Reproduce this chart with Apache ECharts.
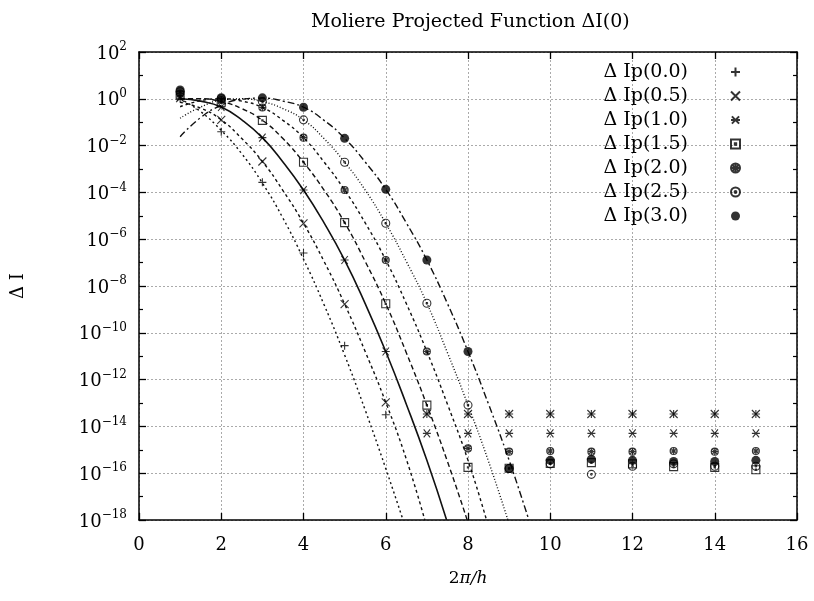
<!DOCTYPE html>
<html>
<head>
<meta charset="utf-8">
<script src="https://cdn.jsdelivr.net/npm/echarts@6/dist/echarts.min.js"></script>
<style>
  html, body { margin: 0; background: #fff; }
  #main { width: 814px; height: 601px; }
</style>
</head>
<body>
<div id="main"></div>
<script>
// x positions of the computed points (2*pi/h)
const xMarks = [1, 2, 3, 4, 5, 6, 7, 8, 9, 10, 11, 12, 13, 14, 15];

// computed points, log10(ΔI)
const ip00 = [0.0, -1.41, -3.57, -6.59, -10.55, -13.5, -13.47, -13.47, -13.47, -13.47, -13.47, -13.47, -13.47, -13.47, -13.47];
const ip05 = [0.03, -0.9, -2.68, -5.32, -8.77, -12.97, -13.47, -13.47, -13.47, -13.47, -13.47, -13.47, -13.47, -13.47, -13.47];
const ip10 = [0.08, -0.35, -1.66, -3.9, -6.89, -10.8, -14.3, -14.3, -14.3, -14.3, -14.3, -14.3, -14.3, -14.3, -14.3];
const ip15 = [0.15, -0.15, -0.92, -2.71, -5.29, -8.76, -13.09, -15.75, -15.79, -15.58, -15.55, -15.6, -15.72, -15.75, -15.85];
const ip20 = [0.22, -0.05, -0.37, -1.66, -3.9, -6.89, -10.8, -14.94, -15.08, -15.05, -15.08, -15.08, -15.05, -15.08, -15.05];
const ip25 = [0.3, 0.0, -0.12, -0.9, -2.71, -5.32, -8.74, -13.09, -15.8, -15.6, -16.05, -15.7, -15.6, -15.7, -15.7];
const ip30 = [0.38, 0.05, 0.04, -0.36, -1.69, -3.87, -6.89, -10.8, -15.8, -15.45, -15.4, -15.45, -15.5, -15.5, -15.45];

// approximation curves, [2*pi/h, log10(ΔI)]
const line00 = [[1, 0.0], [1.5, -0.55], [2, -1.35], [2.5, -2.35], [3, -3.6], [3.5, -5.1], [4, -6.85], [4.5, -8.8], [5, -10.95], [5.5, -13.3], [6, -15.8], [6.42, -18]];
const line05 = [[1, -0.15], [1.5, -0.4], [2, -0.9], [2.5, -1.7], [3, -2.68], [3.5, -3.92], [4, -5.32], [4.5, -6.95], [5, -8.77], [5.5, -10.8], [6, -12.97], [6.5, -15.4], [6.95, -18]];
const line10 = [[1, 0.0], [1.5, -0.1], [2, -0.35], [2.5, -0.9], [3, -1.66], [3.5, -2.7], [4, -3.9], [4.5, -5.3], [5, -6.89], [5.5, -8.75], [6, -10.8], [6.5, -13.05], [7, -15.45], [7.48, -18]];
const line15 = [[1, 0.0], [1.5, 0.0], [2, -0.12], [2.5, -0.42], [3, -0.92], [3.5, -1.7], [4, -2.71], [4.5, -3.9], [5, -5.29], [5.5, -6.95], [6, -8.76], [6.5, -10.85], [7, -13.09], [7.5, -15.5], [7.98, -18]];
const line20 = [[1, -0.34], [1.5, -0.08], [2, 0.0], [2.5, -0.1], [3, -0.37], [3.5, -0.92], [4, -1.66], [4.5, -2.7], [5, -3.9], [5.5, -5.3], [6, -6.89], [6.5, -8.75], [7, -10.8], [7.5, -13.05], [8, -15.45], [8.45, -18]];
const line25 = [[1, -0.83], [1.5, -0.35], [2, -0.06], [2.5, 0.0], [3, -0.12], [3.5, -0.42], [4, -0.9], [4.5, -1.7], [5, -2.71], [5.5, -3.9], [6, -5.32], [6.5, -6.95], [7, -8.74], [7.5, -10.85], [8, -13.09], [8.5, -15.5], [8.97, -18]];
const line30 = [[1, -1.62], [1.5, -0.8], [2, -0.28], [2.5, -0.02], [3, 0.03], [3.5, -0.1], [4, -0.36], [4.5, -0.92], [5, -1.69], [5.5, -2.7], [6, -3.87], [6.5, -5.3], [7, -6.89], [7.5, -8.75], [8, -10.8], [8.5, -13.05], [9, -15.45], [9.48, -18]];

const names = ['Δ Ip(0.0)', 'Δ Ip(0.5)', 'Δ Ip(1.0)', 'Δ Ip(1.5)', 'Δ Ip(2.0)', 'Δ Ip(2.5)', 'Δ Ip(3.0)'];

const FONT = 'DejaVu Serif';
const pointSets = [ip00, ip05, ip10, ip15, ip20, ip25, ip30];
const lineSets = [line00, line05, line10, line15, line20, line25, line30];
const symbols = [
  'path://M0,5L10,5M5,0L5,10',
  'path://M1,1L9,9M9,1L1,9',
  'path://M1,1L9,9M9,1L1,9M0,5L10,5',
  'path://M1,1L9,1L9,9L1,9ZM4.4,4.4L5.6,4.4L5.6,5.6L4.4,5.6Z',
  'path://M0,5A5,5,0,1,1,10,5A5,5,0,1,1,0,5ZM1.5,1.5L8.5,8.5M8.5,1.5L1.5,8.5M5,0L5,10M0,5L10,5',
  'path://M0,5A5,5,0,1,1,10,5A5,5,0,1,1,0,5ZM4,5A1,1,0,1,1,6,5A1,1,0,1,1,4,5Z',
  'circle',
];
const sizes = [8, 8, 8, 8, 7, 8, 9];
const dashes = [[2, 3], [3, 3], 'solid', [5, 3], [3, 3], [1, 2], [7, 3, 2, 3]];

const series = [];
lineSets.forEach((pts, i) => {
  series.push({
    name: 'curve ' + names[i],
    type: 'line',
    data: pts,
    smooth: true,
    showSymbol: false,
    silent: true,
    z: 2,
    lineStyle: { color: '#111', width: dashes[i] === 'solid' ? 1.6 : 1.4, type: dashes[i] },
  });
});
pointSets.forEach((vals, i) => {
  const filled = symbols[i] === 'circle';
  series.push({
    name: names[i],
    type: 'scatter',
    data: xMarks.map((x, k) => [x, vals[k]]),
    symbol: symbols[i],
    symbolSize: sizes[i],
    z: 4,
    itemStyle: filled
      ? { color: '#000' }
      : { color: 'rgba(0,0,0,0)', borderColor: '#000', borderWidth: 1.1 },
  });
});

const expLabel = (v) => '{b|10}{e|' + (v < 0 ? '\u2212' + (-v) : v) + '}';

const option = {
  animation: false,
  backgroundColor: '#fff',
  title: {
    text: 'Moliere Projected Function ΔI(0)',
    left: 306,
    top: 8,
    textStyle: { fontFamily: FONT, fontSize: 19, fontWeight: 'normal', color: '#000' },
  },
  legend: {
    data: names,
    orient: 'vertical',
    align: 'right',
    right: 73,
    top: 62,
    padding: 0,
    itemGap: 4,
    itemWidth: 9,
    itemHeight: 9,
    selectedMode: false,
    textStyle: { fontFamily: FONT, fontSize: 19, color: '#000', lineHeight: 20, padding: [0, 38, 0, 0] },
  },
  grid: { left: 139, right: 17, top: 52, bottom: 81 },
  xAxis: [
    {
      type: 'value',
      min: 0,
      max: 16,
      interval: 2,
      name: '{n|2}{i|π/h}',
      nameLocation: 'middle',
      nameGap: 50,
      nameTextStyle: {
        rich: {
          n: { fontFamily: FONT, fontSize: 17, color: '#000' },
          i: { fontFamily: FONT, fontSize: 17, fontStyle: 'italic', color: '#000' },
        },
      },
      axisLine: { onZero: false, lineStyle: { color: '#000', width: 1.5 } },
      axisTick: { inside: true, length: 7, lineStyle: { color: '#000', width: 1.3 } },
      axisLabel: { fontFamily: FONT, fontSize: 18, color: '#000', margin: 16 },
      splitLine: { show: true, lineStyle: { color: '#aaa', width: 1, type: [2, 2] } },
    },
    {
      type: 'value',
      position: 'top',
      min: 0,
      max: 16,
      interval: 2,
      axisLine: { onZero: false, lineStyle: { color: '#000', width: 1.5 } },
      axisTick: { inside: true, length: 7, lineStyle: { color: '#000', width: 1.3 } },
      axisLabel: { show: false },
      splitLine: { show: false },
    },
  ],
  yAxis: [
    {
      type: 'value',
      min: -18,
      max: 2,
      interval: 2,
      name: 'Δ I',
      nameLocation: 'middle',
      nameGap: 112,
      nameTextStyle: { fontFamily: FONT, fontSize: 18, color: '#000' },
      axisLine: { onZero: false, lineStyle: { color: '#000', width: 1.5 } },
      axisTick: { inside: true, length: 7, lineStyle: { color: '#000', width: 1.3 } },
      minorTick: { show: true, splitNumber: 2, length: 4, lineStyle: { color: '#000', width: 1.2 } },
      axisLabel: {
        formatter: expLabel,
        margin: 12,
        rich: {
          b: { fontFamily: FONT, fontSize: 18, color: '#000', lineHeight: 22, verticalAlign: 'bottom' },
          e: { fontFamily: FONT, fontSize: 12, color: '#000', lineHeight: 14, verticalAlign: 'top' },
        },
      },
      splitLine: { show: true, lineStyle: { color: '#aaa', width: 1, type: [2, 2] } },
    },
    {
      type: 'value',
      position: 'right',
      min: -18,
      max: 2,
      interval: 2,
      axisLine: { show: true, onZero: false, lineStyle: { color: '#000', width: 1.5 } },
      axisTick: { show: true, inside: true, length: 7, lineStyle: { color: '#000', width: 1.3 } },
      minorTick: { show: true, splitNumber: 2, length: 4, lineStyle: { color: '#000', width: 1.2 } },
      axisLabel: { show: false },
      splitLine: { show: false },
    },
  ],
  series,
};

const chart = echarts.init(document.getElementById('main'));
chart.setOption(option);
</script>
</body>
</html>
